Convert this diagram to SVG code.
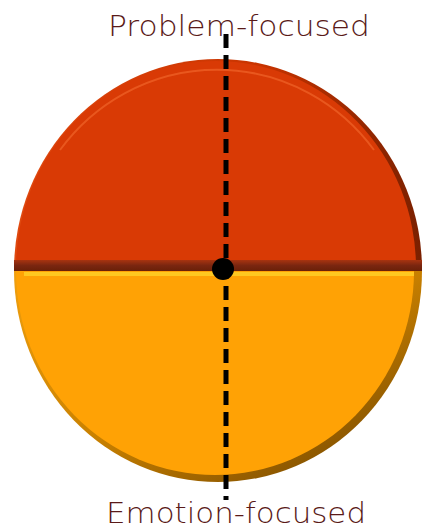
<svg xmlns="http://www.w3.org/2000/svg" width="423" height="529" viewBox="0 0 423 529">
<defs>
<style>
.lbl{font-family:"URW Gothic","Century Gothic","DejaVu Sans","Liberation Sans",sans-serif;font-size:29px;fill:#5a1a18;font-weight:300}
</style>
<linearGradient id="topEdge" x1="0" y1="0" x2="1" y2="0">
<stop offset="0" stop-color="#e04a10"/>
<stop offset="0.6" stop-color="#c83400"/>
<stop offset="1" stop-color="#7a2000"/>
</linearGradient>
<linearGradient id="botEdge" x1="0" y1="0" x2="1" y2="1">
<stop offset="0" stop-color="#f0a010"/>
<stop offset="0.5" stop-color="#c88000"/>
<stop offset="1" stop-color="#6a4000"/>
</linearGradient>
<linearGradient id="band" x1="0" y1="0" x2="0" y2="1">
<stop offset="0" stop-color="#a83410"/>
<stop offset="0.5" stop-color="#7a2610"/>
<stop offset="1" stop-color="#6a2008"/>
</linearGradient>
</defs>
<g id="top-half">
<path d="M14,270 A204,211 0 0 1 422,270 Z" fill="url(#topEdge)"/>
<path d="M16,268 A200,207 0 0 1 416,268 Z" fill="#d93a05"/>
<path d="M60,150 A196,200 0 0 1 374,150" fill="none" stroke="#f0642a" stroke-width="2" opacity="0.7"/>
<rect x="14" y="260" width="408" height="11" fill="url(#band)"/>
</g>
<g id="bottom-half">
<path d="M14,271 A204,211 0 0 0 422,271 Z" fill="url(#botEdge)"/>
<path d="M16,271 A199,204 0 0 0 414,271 Z" fill="#ffa205"/>
<rect x="24" y="272" width="390" height="4" fill="#ffc820"/>
</g>
<g id="connectors">
<line x1="226" y1="34" x2="226" y2="500" stroke="#000" stroke-width="5" stroke-dasharray="14,7"/>
<circle cx="223" cy="269" r="11" fill="#000"/>
</g>
<g id="labels">
<text class="lbl" x="239" y="36" text-anchor="middle" textLength="262" lengthAdjust="spacingAndGlyphs">Problem-focused</text>
<text class="lbl" x="236" y="523" text-anchor="middle" textLength="260" lengthAdjust="spacingAndGlyphs">Emotion-focused</text>
</g>
</svg>
